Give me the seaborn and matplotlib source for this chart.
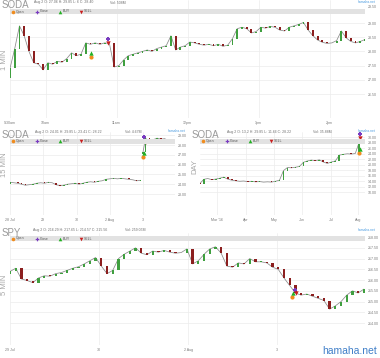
import matplotlib
matplotlib.use("Agg")
import matplotlib.pyplot as plt
import numpy as np
import pandas as pd
import seaborn as sns
from matplotlib.patches import Rectangle
from matplotlib.lines import Line2D

# ------------------------------------------------------------------ data
# Panel 1: SODA 1-minute (minutes after 9:30, every 4 min)
m1_minutes = list(range(0, 301, 4))
m1_close = [27.40, 28.10, 28.90, 28.55, 28.00, 27.60, 27.55, 27.35, 27.60, 27.55,
            27.65, 27.62, 27.75, 27.95, 27.85, 27.90, 28.30, 28.25, 28.30, 28.25,
            28.30, 28.28, 27.45, 27.50, 27.70, 27.85, 27.90, 27.95, 28.00, 28.05,
            28.00, 28.10, 28.15, 28.20, 28.55, 28.05, 28.15, 28.20, 28.33, 28.30,
            28.25, 28.22, 28.25, 28.20, 28.25, 28.18, 28.22, 28.45, 28.80, 28.85,
            28.80, 28.65, 28.70, 28.85, 28.82, 28.88, 28.85, 28.75, 28.72, 28.85,
            28.90, 28.95, 29.02, 28.75, 28.55, 28.40, 28.32, 28.28, 28.30, 28.38,
            28.72, 28.48, 28.35, 28.30, 28.35, 28.42]
m1_first_open = 27.06
m1_xticks = [0, 30, 90, 150, 210, 270]
m1_xlabels = ["9:30am", "10am", "11am", "12pm", "1pm", "2pm"]
m1_yticks = [26.5, 27.0, 27.5, 28.0, 28.5, 29.0, 29.5]
m1_sig_open = ([68.5], [27.79])
m1_sig_buy = ([68.5], [27.93])
m1_sig_close = ([83], [28.44])
m1_sig_sell = ([83], [28.29])

# Panel 2: SODA 15-minute (bar index)
m15_bars = [0, 3, 6, 9, 12, 15, 18, 21, 24, 27, 30, 33, 36, 39, 42, 45, 48, 51,
            54, 57, 60, 63, 66, 69, 72, 75, 78, 81, 84, 87, 90, 93, 96, 99, 102,
            104, 106, 109, 112, 115, 118, 121, 124, 127]
m15_close = [24.20, 24.15, 24.10, 24.00, 23.90, 23.95, 24.00, 24.10, 24.15, 24.10,
             24.20, 24.15, 23.95, 23.85, 23.90, 24.00, 24.05, 24.10, 24.00, 24.10,
             24.20, 24.25, 24.20, 24.30, 24.35, 24.50, 24.55, 24.60, 24.55, 24.60,
             24.55, 24.50, 24.45, 24.35, 24.40,
             27.30, 28.70, 28.30, 28.55, 28.70, 28.60, 28.65, 28.40, 28.22]
m15_session = [0] * 35 + [1] * 9
m15_first_open = 24.01
m15_gap_open = 27.06
m15_xticks = [0, 26, 52, 78, 104]
m15_xlabels = ["28 Jul", "29", "30", "2 Aug", "3"]
m15_yticks = [23, 24, 25, 26, 27, 28, 29]
m15_sig_open = ([103.7], [26.80])
m15_sig_buy = ([104.7], [27.15])
m15_sig_close = ([104.9], [28.85])
m15_sig_sell = ([106.0], [28.34])

# Panel 3: SODA daily (trading-day index)
day_idx = list(range(0, 121, 3))
day_close = [13.00, 14.60, 14.90, 14.50, 14.70, 15.00, 15.40, 14.70, 14.30, 14.10,
             13.90, 14.00, 13.80, 13.90, 13.70, 13.80, 13.60, 13.70, 13.60, 13.90,
             14.30, 17.80, 18.90, 18.80, 19.00, 19.30, 20.80, 21.30, 21.60, 21.40,
             21.70, 20.90, 20.40, 20.90, 21.30, 23.40, 23.70, 23.90, 23.80, 24.00,
             28.22]
day_first_open = 13.2
day_xticks = [13, 35, 56, 77, 99, 119]
day_xlabels = ["Mar '16", "Apr", "May", "Jun", "Jul", "Aug"]
day_yticks = [10, 12, 14, 16, 18, 20, 22, 24, 26, 28, 30]
day_sig_open = ([120], [24.07])
day_sig_buy = ([120.5], [25.5])
day_sig_close = ([120.5], [31.1])
day_sig_sell = ([120.5], [29.5])

# Panel 4: SPY 5-minute (bar index, every 5 bars)
spy_bars = list(range(0, 311, 5))
spy_close = [216.40, 216.55, 216.05, 215.98, 215.88, 216.10, 216.20, 216.18, 216.30, 216.35,
             216.45, 216.55, 216.62, 216.75, 216.90, 217.05, 216.65, 216.30, 216.45, 217.00,
             217.20, 217.35, 217.50, 217.25, 217.18, 217.35, 217.30, 217.38, 217.30, 217.25,
             217.28, 217.45, 216.75, 216.90, 217.20, 217.45, 217.55, 217.25, 216.65, 216.60,
             216.80, 216.75, 217.00, 216.85, 216.85, 216.80, 216.60, 216.50, 216.10, 215.75,
             215.40, 215.30, 215.35, 215.25, 215.15, 215.05, 214.65, 214.80, 215.00, 215.30,
             215.50, 215.40, 215.58]
spy_first_open = 216.30
spy_xticks = [0, 78, 156, 234]
spy_xlabels = ["29 Jul", "30", "2 Aug", "3"]
spy_yticks = [214.0, 214.5, 215.0, 215.5, 216.0, 216.5, 217.0, 217.5, 218.0]
spy_sig_open = ([247], [215.22])
spy_sig_buy = ([247.5], [215.41])
spy_sig_close = ([250], [215.53])
spy_sig_sell = ([250.5], [215.38])

# ------------------------------------------------------------------ style
sns.set_theme(style="white")
plt.rcParams['font.family'] = ['Liberation Sans', 'DejaVu Sans']

UP = "#3f9f3f"
DOWN = "#8c1f1f"
C_OPEN = "#f08c1e"
C_CLOSE = "#7a3cc0"
C_BUY = "#22b022"
C_SELL = "#c81e1e"
TICK_C = "#7a7a7a"

W, H = 380, 358
fig = plt.figure(figsize=(W / 100, H / 100), dpi=100)
fig.patch.set_facecolor("white")


def rect(l, t, r, b):
    return [l / W, 1 - b / H, (r - l) / W, (b - t) / H]


def ftext(x, y, s, **kw):
    fig.text(x / W, 1 - y / H, s, **kw)


def candles(ax, x, close, first_open, width, session=None, gap_open=None):
    x = np.asarray(x, float)
    close = np.asarray(close, float)
    opens = np.concatenate([[first_open], close[:-1]])
    if session is not None and gap_open is not None:
        sess = np.asarray(session)
        g = np.where(np.diff(sess) != 0)[0] + 1
        opens[g] = gap_open
    if session is None:
        session = [0] * len(x)
    df = pd.DataFrame({"x": x, "close": close, "seg": session})
    sns.lineplot(data=df, x="x", y="close", units="seg", estimator=None,
                 color="#8a8a8a", lw=0.55, ax=ax, legend=False, zorder=2)
    diff = close - opens
    span = ax.get_ylim()[1] - ax.get_ylim()[0]
    mn = span * 0.006
    h = np.where(np.abs(diff) < mn, mn, diff)
    up = diff >= 0
    ax.bar(x[up], h[up], bottom=opens[up], width=width, color=UP, lw=0, zorder=3)
    ax.bar(x[~up], h[~up], bottom=opens[~up], width=width, color=DOWN, lw=0, zorder=3)


def signals(ax, so, sb, sc, ss):
    ax.scatter(*so, marker="o", s=9, color=C_OPEN, lw=0, zorder=6, clip_on=False)
    ax.scatter(*sb, marker="^", s=10, color=C_BUY, lw=0, zorder=6, clip_on=False)
    ax.scatter(*sc, marker="P", s=10, color=C_CLOSE, lw=0, zorder=6, clip_on=False)
    ax.scatter(*ss, marker="v", s=10, color=C_SELL, lw=0, zorder=6, clip_on=False)


def style(ax, xlim, ylim, xt, xl, yt, fmt):
    ax.set_xlim(*xlim)
    ax.set_ylim(*ylim)
    ax.set_xticks(xt)
    ax.set_xticklabels(xl)
    ax.set_yticks(yt)
    ax.set_yticklabels([fmt.format(v) for v in yt])
    ax.yaxis.tick_right()
    ax.tick_params(axis="both", length=0, labelsize=2.6, colors=TICK_C)
    ax.tick_params(axis="y", pad=2)
    ax.tick_params(axis="x", pad=2.5)
    for s in ax.spines.values():
        s.set_visible(False)
    ax.grid(True, color="#ececec", lw=0.5)
    ax.set_axisbelow(True)
    ax.set_xlabel("")
    ax.set_ylabel("")
    ax.set_facecolor("white")


def header(l, r, ty, title, info, infox, vol, volx, linky, bary):
    ftext(l - 8, ty, title, fontsize=7, color="#9a9a9a", va="center", ha="left")
    ftext(infox, ty - 2.5, info, fontsize=2.5, color="#707070", va="center")
    ftext(volx, ty - 2.5, vol, fontsize=2.5, color="#707070", va="center")
    ftext(r + 11, linky, "hamaha.net", fontsize=2.4, color="#4a9be0", va="center", ha="right")
    fig.add_artist(Rectangle((l / W, 1 - (bary + 5) / H), (r - l) / W, 5 / H,
                             transform=fig.transFigure, color="#e2e2e2", lw=0, zorder=4))
    yc = bary + 2.5
    items = [("o", C_OPEN, "Open", 3), ("P", C_CLOSE, "Close", 27),
             ("^", C_BUY, "BUY", 50), ("v", C_SELL, "SELL", 71)]
    for mk, col, lab, dx in items:
        fig.add_artist(Line2D([(l + dx) / W], [1 - yc / H], marker=mk, color=col,
                              markersize=2.6, markeredgewidth=0, lw=0,
                              transform=fig.transFigure, zorder=5))
        ftext(l + dx + 2.5, yc, lab, fontsize=2.5, color="#555555", va="center", zorder=5)


# ---------------- Panel 1
ax1 = fig.add_axes(rect(10, 0, 365, 118))
ax1.set_ylim(25.655, 29.81)
candles(ax1, m1_minutes, m1_close, m1_first_open, 1.6)
signals(ax1, m1_sig_open, m1_sig_buy, m1_sig_close, m1_sig_sell)
style(ax1, (0, 300), (25.655, 29.81), m1_xticks, m1_xlabels, m1_yticks, "{:.2f}")
ax1.get_yticklabels()[-1].set_va("bottom")
header(10, 365, 5, "SODA", "Aug 2 O: 27.06 H: 29.85 L: 6 C: 28.40", 34,
       "Vol: 508M", 110, 2, 9)
ftext(4.5, 60, "1 MIN", fontsize=5.5, color="#a8a8a8", rotation=90, va="center", ha="center")

# ---------------- Panel 2
ax2 = fig.add_axes(rect(10, 132, 175, 215))
ax2.set_ylim(20.86, 29.33)
candles(ax2, m15_bars, m15_close, m15_first_open, 1.3, session=m15_session,
        gap_open=m15_gap_open)
signals(ax2, m15_sig_open, m15_sig_buy, m15_sig_close, m15_sig_sell)
style(ax2, (0, 129), (20.86, 29.33), m15_xticks, m15_xlabels, m15_yticks, "{:.2f}")
header(10, 175, 134.5, "SODA", "Aug 2 O: 24.01 H: 29.85 L: 23.41 C: 28.22", 35,
       "Vol: 4.67M", 125, 131.5, 139)
ftext(4.5, 165, "15 MIN", fontsize=5.5, color="#a8a8a8", rotation=90, va="center", ha="center")

# ---------------- Panel 3
ax3 = fig.add_axes(rect(200, 132, 365, 215))
ax3.set_ylim(1.64, 31.82)
candles(ax3, day_idx, day_close, day_first_open, 1.4)
signals(ax3, day_sig_open, day_sig_buy, day_sig_close, day_sig_sell)
style(ax3, (0.2, 124.3), (1.64, 31.82), day_xticks, day_xlabels, day_yticks, "{:.2f}")
header(200, 365, 134.5, "SODA", "Aug 2 O: 13.2 H: 29.85 L: 11.66 C: 28.22", 227,
       "Vol: 35.88M", 313, 131.5, 139)
ftext(194.5, 167, "DAY", fontsize=5.5, color="#a8a8a8", rotation=90, va="center", ha="center")

# ---------------- Panel 4
ax4 = fig.add_axes(rect(10, 233, 365, 345))
ax4.set_ylim(212.98, 218.19)
candles(ax4, spy_bars, spy_close, spy_first_open, 2.0)
signals(ax4, spy_sig_open, spy_sig_buy, spy_sig_close, spy_sig_sell)
style(ax4, (0, 311), (212.98, 218.19), spy_xticks, spy_xlabels, spy_yticks, "{:.2f}")
header(10, 365, 232.5, "SPY", "Aug 2 O: 216.29 H: 217.65 L: 214.57 C: 215.56", 33,
       "Vol: 259.05M", 125, 230, 236)
ftext(4.5, 285, "5 MIN", fontsize=5.5, color="#a8a8a8", rotation=90, va="center", ha="center")

# watermark
ftext(377, 351.5, "hamaha.net", fontsize=7.5, color="#3f7fc8", ha="right", va="center")

fig.savefig("out.png", dpi=100, facecolor="white")
